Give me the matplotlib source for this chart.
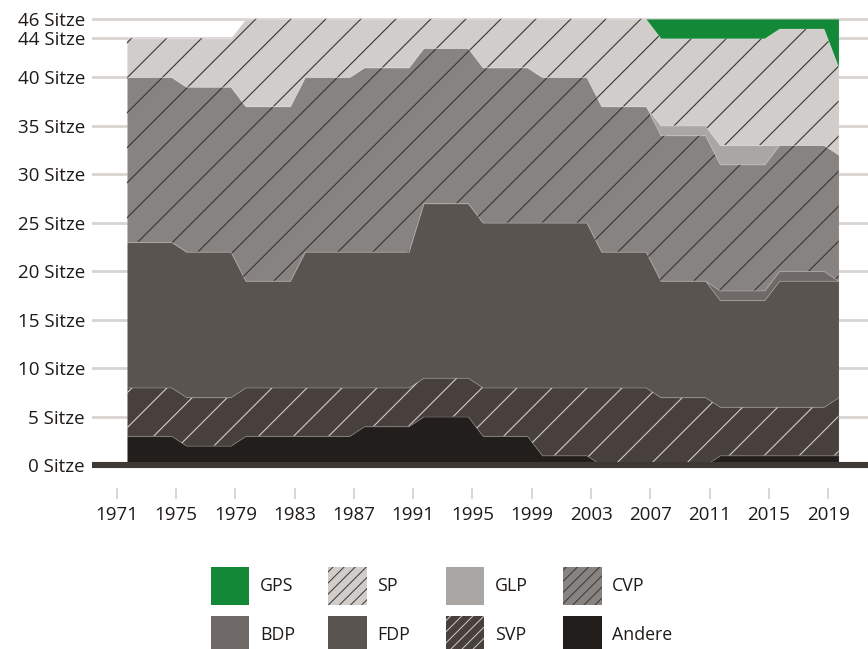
"""Sitzverteilung im Ständerat 1971–2019 als gestapelte Flächen."""
import matplotlib
matplotlib.use("Agg")
import matplotlib.pyplot as plt
import numpy as np
from matplotlib.collections import LineCollection
from matplotlib.patches import Rectangle

plt.rcParams["font.family"] = ["Open Sans", "DejaVu Sans"]
plt.rcParams["hatch.linewidth"] = 0.7

# ── Data: seats per legislature (held until the next election) ────────
ELECTION_YEARS = [1971, 1975, 1979, 1983, 1987, 1991, 1995, 1999, 2003, 2007, 2011, 2015, 2019]
andere = [3, 2, 3, 3, 4, 5, 3, 1, 0, 0, 1, 1, 1]
svp = [5, 5, 5, 5, 4, 4, 5, 7, 8, 7, 5, 5, 6]
fdp = [15, 15, 11, 14, 14, 18, 17, 17, 14, 12, 11, 13, 12]
bdp = [0, 0, 0, 0, 0, 0, 0, 0, 0, 0, 1, 1, 0]
cvp = [17, 17, 18, 18, 19, 16, 16, 15, 15, 15, 13, 13, 13]
glp = [0, 0, 0, 0, 0, 0, 0, 0, 0, 1, 2, 0, 0]
sp = [4, 5, 9, 6, 5, 3, 5, 6, 9, 9, 11, 12, 9]
gps = [0, 0, 0, 0, 0, 0, 0, 0, 0, 2, 2, 1, 5]

FIRST_YEAR, LAST_YEAR = 1971, 2019
X_TICKS = list(range(1971, 2020, 4))
Y_TICKS = [0, 5, 10, 15, 20, 25, 30, 35, 40, 44, 46]

# bottom -> top: (label, values, colour, hatch colour or None)
LAYERS = [
    ("Andere", andere, "#221e1b", None),
    ("SVP", svp, "#47403c", "#d2cdca"),
    ("FDP", fdp, "#5a5450", None),
    ("BDP", bdp, "#6f6a67", None),
    ("CVP", cvp, "#878380", "#3a3531"),
    ("GLP", glp, "#aaa6a3", None),
    ("SP", sp, "#d1cdcb", "#3a3531"),
    ("GPS", gps, "#138837", None),
]
LEGEND_ORDER = ["GPS", "SP", "GLP", "CVP", "BDP", "FDP", "SVP", "Andere"]

TEXT = "#1e1a17"
POINT_SHIFT = 0.69  # each yearly value sits a bit into its year

years = np.arange(FIRST_YEAR, LAST_YEAR + 1)
term = np.searchsorted(ELECTION_YEARS, years, side="right") - 1
x = years + POINT_SHIFT

W, H = 868, 649
fig = plt.figure(figsize=(W / 100, H / 100), dpi=100)
ax = fig.add_axes([92 / W, 1 - 488 / H, 1 - 92 / W, 478 / H])
ax.set_xlim(1969.334, 2021.678)
ax.set_ylim(-2.371, 46.91)


def add_hatch(ax, area, color, spacing_px=35, phase=1971.55, lw=0.8):
    """45° lines (in pixels) clipped to a filled area."""
    x0, x1 = ax.get_xlim()
    y0, y1 = ax.get_ylim()
    pos = ax.get_position()
    sx = pos.width * fig.get_figwidth() * fig.dpi / (x1 - x0)
    sy = pos.height * fig.get_figheight() * fig.dpi / (y1 - y0)
    slope = sx / sy
    step = spacing_px / sx
    lo = x0 - y1 / slope
    starts = phase + step * np.arange(np.floor((lo - phase) / step), np.ceil((x1 - phase) / step) + 1)
    segs = [[(s + y0 / slope, y0), (s + y1 / slope, y1)] for s in starts]
    lc = LineCollection(segs, colors=color, linewidths=lw, zorder=area.get_zorder() + 0.1)
    lc.set_clip_path(area.get_paths()[0], area.get_transform())
    ax.add_collection(lc, autolim=False)


# ── Stacked areas ─────────────────────────────────────────────────────
base = np.zeros(len(years))
for i, (name, vals, col, hcol) in enumerate(LAYERS):
    top = base + np.asarray(vals)[term]
    area = ax.fill_between(x, base, top, facecolor=col, edgecolor=(1, 1, 1, 0.12),
                           linewidth=0.8, zorder=2 + i * 0.2)
    if hcol:
        add_hatch(ax, area, hcol)
    base = top

ax.axhline(0, color="#3d3833", lw=4.4, zorder=6)

# ── Axes styling ──────────────────────────────────────────────────────
ax.set_yticks(Y_TICKS)
ax.set_yticklabels([f"{v} Sitze" for v in Y_TICKS])
ax.grid(axis="y", color="#d8d4d2", lw=2.0)
ax.set_axisbelow(True)
ax.tick_params(axis="y", length=0, pad=5, labelsize=13.5, labelcolor=TEXT)

ax.set_xticks(X_TICKS)
ax.tick_params(axis="x", direction="out", length=8, width=1.2, color="#d3cfcd",
               pad=5, labelsize=13.5, labelcolor=TEXT)
for s in ax.spines.values():
    s.set_visible(False)

# ── Legend: 2 rows x 4 columns of squares ─────────────────────────────
styles = {name: (col, hcol) for name, _, col, hcol in LAYERS}
box = 38.6
for i, name in enumerate(LEGEND_ORDER):
    col, hcol = styles[name]
    left = 210.7 + (i % 4) * 117.5
    top = 566.7 + (i // 4) * 49.5
    fig.add_artist(Rectangle((left / W, 1 - (top + box) / H), box / W, box / H,
                             transform=fig.transFigure, facecolor=col,
                             edgecolor=hcol or col, linewidth=0,
                             hatch="///" if hcol else None))
    fig.text((left + box + 10.5) / W, 1 - (top + box / 2) / H, name,
             ha="left", va="center", fontsize=12.8, color=TEXT)

fig.savefig("out.png", dpi=100)
